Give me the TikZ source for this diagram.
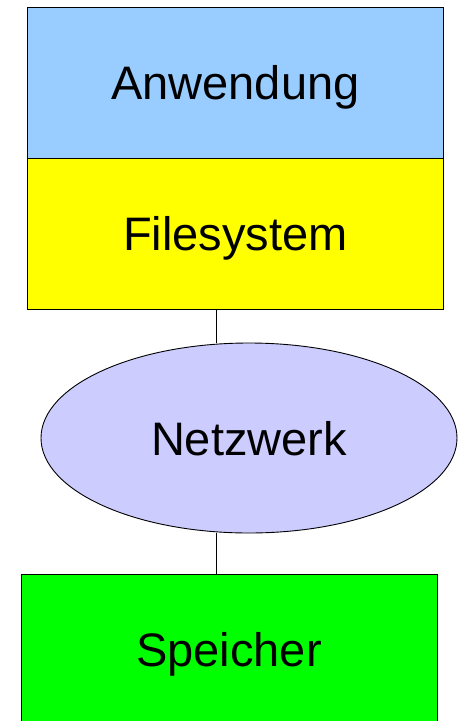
\documentclass[tikz,border=0pt]{standalone}
\usepackage{fontspec}
\setmainfont{Liberation Sans}
\usetikzlibrary{shapes.geometric}
\definecolor{appblue}{HTML}{99CCFF}
\definecolor{fsyellow}{HTML}{FFFF00}
\definecolor{netlilac}{HTML}{CCCCFF}
\definecolor{storegreen}{HTML}{00FF00}
\begin{document}
\begin{tikzpicture}[x=1pt,y=1pt,
  bigtext/.style={font=\fontsize{47}{56}\selectfont, text height=34pt, text depth=0pt},
  layer/.style={draw=black, line width=0.9pt, minimum width=416pt, inner sep=0pt,
                bigtext, anchor=north west},
  cloud/.style={ellipse, draw=black, line width=0.9pt, fill=netlilac,
                minimum width=416pt, minimum height=190pt, inner sep=0pt, bigtext},
  link/.style={draw=black, line width=0.9pt}]
  \useasboundingbox (0,0) rectangle (458,-721);
  % stacked layers on the client side
  \node[layer, fill=appblue, minimum height=151.5pt] (app) at (27,-6.5) {Anwendung};
  \node[layer, fill=fsyellow, minimum height=150.5pt] (fs) at (27,-158) {Filesystem};
  % network between client and storage
  \node[cloud] (net) at (249,-438) {Netzwerk};
  % storage box, running off the lower edge
  \node[layer, fill=storegreen, minimum height=152pt] (store) at (21,-574) {};
  \node[bigtext] (storelabel) at (229,-649) {Speicher};
  % vertical connectors
  \coordinate (xline) at (216,0);
  \draw[link] (fs.south -| xline) -- (net.north -| xline);
  \draw[link] (net.south -| xline) -- (store.north -| xline);
\end{tikzpicture}
\end{document}
